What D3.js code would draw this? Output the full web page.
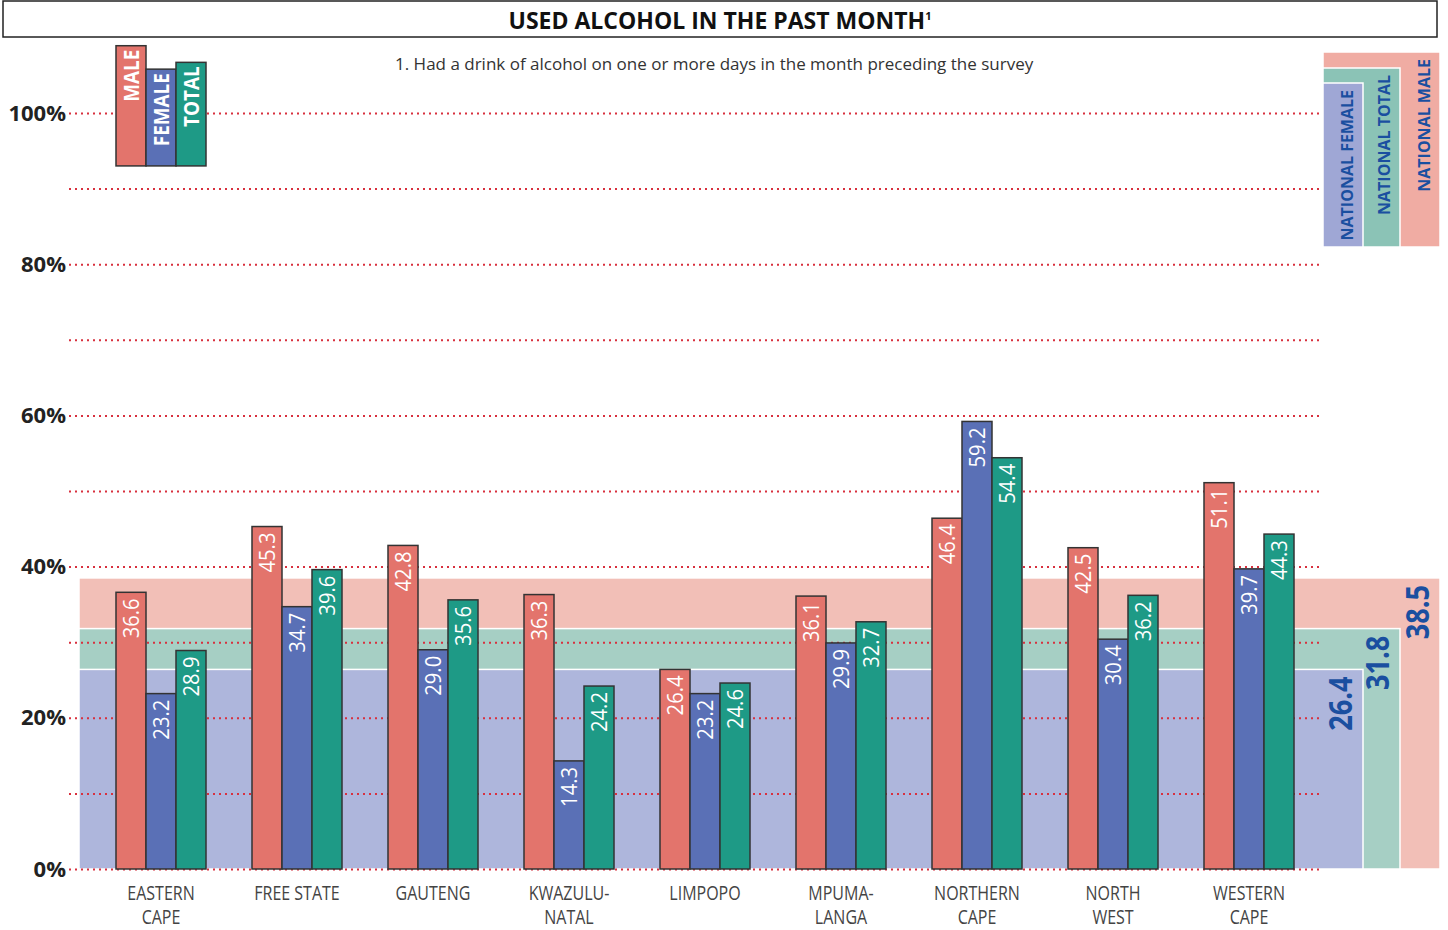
<!DOCTYPE html>
<html>
<head>
<meta charset="utf-8">
<script src="https://cdn.jsdelivr.net/npm/d3@7"></script>
<style>
  body { margin: 0; background: #fff; }
  svg { display: block; font-family: "Open Sans", "DejaVu Sans", sans-serif; }
</style>
</head>
<body>
<svg id="chart" width="1448" height="930"></svg>
<script>
// data
var provinces = ["EASTERN|CAPE", "FREE STATE", "GAUTENG", "KWAZULU-|NATAL", "LIMPOPO",
                 "MPUMA-|LANGA", "NORTHERN|CAPE", "NORTH|WEST", "WESTERN|CAPE"];
var series = ["MALE", "FEMALE", "TOTAL"];
var male   = [36.6, 45.3, 42.8, 36.3, 26.4, 36.1, 46.4, 42.5, 51.1];
var female = [23.2, 34.7, 29.0, 14.3, 23.2, 29.9, 59.2, 30.4, 39.7];
var total  = [28.9, 39.6, 35.6, 24.2, 24.6, 32.7, 54.4, 36.2, 44.3];
var national = [
    {key: "MALE", value: 38.5},
    {key: "TOTAL", value: 31.8},
    {key: "FEMALE", value: 26.4}
];
var legendTops = [108.9, 105.8, 106.7]; // legend bars sit above the 100% line
var legendBase = 93;
var yTicks = [0, 20, 40, 60, 80, 100];

var svg = d3.select("svg"),
    width = +svg.attr("width"),
    height = +svg.attr("height");

var barColor = {MALE: "#e3746c", FEMALE: "#5a70b6", TOTAL: "#1e9a86"};
var bandColor = {MALE: "#f2bfb7", TOTAL: "#a6cfc4", FEMALE: "#aeb6dc"};
var keyColor = {MALE: "#f0aca3", TOTAL: "#8bc3b6", FEMALE: "#9fa7d5"};
var bandRight = {MALE: 1440, TOTAL: 1400, FEMALE: 1363};
var keyTop = {MALE: 52, TOTAL: 68, FEMALE: 83};
var blue = "#1a4fa0";

var y = d3.scaleLinear().domain([0, 100]).range([869, 113]);
var x0 = d3.scaleBand().domain(provinces).range([93, 1317]);
var x1 = d3.scaleBand().domain(series).range([0, 90]);
var groupOff = (x0.step() - 90) / 2;

var rows = provinces.map(function(p, i) {
    return {name: p, values: [male[i], female[i], total[i]]};
});

// title box
svg.append("rect")
    .attr("x", 3).attr("y", 1).attr("width", 1434).attr("height", 36)
    .attr("fill", "none").attr("stroke", "#222").attr("stroke-width", 1.5);
var title = svg.append("text")
    .attr("x", 720).attr("y", 29)
    .attr("text-anchor", "middle")
    .style("font-size", "23px").style("font-weight", "bold").style("fill", "#111")
    .text("USED ALCOHOL IN THE PAST MONTH");
title.append("tspan").attr("dy", -9).style("font-size", "11px").text("1");

svg.append("text")
    .attr("x", 395).attr("y", 70)
    .style("font-size", "17px").style("fill", "#333")
    .text("1. Had a drink of alcohol on one or more days in the month preceding the survey");

// national reference bands
var bands = svg.append("g").attr("class", "bands");
bands.selectAll("rect")
    .data(national)
    .enter().append("rect")
    .attr("x", 79)
    .attr("y", function(d) { return y(d.value); })
    .attr("width", function(d) { return bandRight[d.key] - 79; })
    .attr("height", function(d) { return y(0) - y(d.value); })
    .attr("fill", function(d) { return bandColor[d.key]; })
    .attr("stroke", "#fff").attr("stroke-width", 1.5);

bands.selectAll("text")
    .data(national)
    .enter().append("text")
    .attr("transform", function(d) {
        return "translate(" + (bandRight[d.key] - 22) + "," + (y(d.value) + 7) + ") rotate(-90) scale(0.85,1)";
    })
    .attr("text-anchor", "end")
    .attr("dy", "0.35em")
    .style("font-size", "32px").style("font-weight", "bold").style("fill", blue)
    .text(function(d) { return d.value.toFixed(1); });

// national key, top right
var key = svg.append("g").attr("class", "key");
key.selectAll("rect")
    .data(national)
    .enter().append("rect")
    .attr("x", 1323)
    .attr("y", function(d) { return keyTop[d.key]; })
    .attr("width", function(d) { return bandRight[d.key] - 1323; })
    .attr("height", function(d) { return 247 - keyTop[d.key]; })
    .attr("fill", function(d) { return keyColor[d.key]; })
    .attr("stroke", "#fff").attr("stroke-width", 1.5);

key.selectAll("text")
    .data(national)
    .enter().append("text")
    .attr("transform", function(d) {
        return "translate(" + (bandRight[d.key] - 16) + "," + (keyTop[d.key] + 7) + ") rotate(-90)";
    })
    .attr("text-anchor", "end")
    .attr("dy", "0.35em")
    .style("font-size", "16px").style("font-weight", "bold").style("fill", blue)
    .text(function(d) { return "NATIONAL " + d.key; });

// dotted gridlines
var grid = svg.append("g")
    .attr("transform", "translate(69,0)")
    .call(d3.axisLeft(y).tickValues(d3.range(0, 101, 10)).tickSize(-1251).tickFormat(""));
grid.select(".domain").remove();
grid.selectAll("line")
    .attr("stroke", "#d8303e").attr("stroke-width", 2)
    .attr("stroke-dasharray", "2,4");

var yAxis = svg.append("g")
    .attr("transform", "translate(66,0)")
    .call(d3.axisLeft(y).tickValues(yTicks).tickSize(0).tickPadding(0)
        .tickFormat(function(d) { return d + "%"; }));
yAxis.select(".domain").remove();
yAxis.selectAll("text")
    .style("font-size", "22px").style("font-weight", "bold").style("fill", "#222")
    .style("font-family", "'Open Sans', sans-serif");

// bars
var groups = svg.append("g").attr("class", "bars")
    .selectAll("g")
    .data(rows)
    .enter().append("g")
    .attr("transform", function(d) { return "translate(" + (x0(d.name) + groupOff) + ",0)"; });

var cells = groups.selectAll("g")
    .data(function(d) {
        return d.values.map(function(v, i) { return {key: series[i], value: v}; });
    })
    .enter().append("g");

cells.append("rect")
    .attr("x", function(d) { return x1(d.key); })
    .attr("y", function(d) { return y(d.value); })
    .attr("width", x1.bandwidth())
    .attr("height", function(d) { return y(0) - y(d.value); })
    .attr("fill", function(d) { return barColor[d.key]; })
    .attr("stroke", "#333").attr("stroke-width", 1.5);

cells.append("text")
    .attr("transform", function(d) {
        return "translate(" + (x1(d.key) + x1.bandwidth() / 2) + "," + (y(d.value) + 6) + ") rotate(-90) scale(0.92,1)";
    })
    .attr("text-anchor", "end")
    .attr("dy", "0.36em")
    .style("font-size", "22px").style("fill", "#fff")
    .text(function(d) { return d.value.toFixed(1); });

// x labels
var xl = svg.append("g").selectAll("text")
    .data(provinces)
    .enter().append("text")
    .attr("transform", function(d) {
        return "translate(" + (x0(d) + x0.step() / 2) + ",900) scale(0.8,1)";
    })
    .attr("text-anchor", "middle")
    .style("font-size", "20px").style("fill", "#444");
xl.selectAll("tspan")
    .data(function(d) { return d.split("|"); })
    .enter().append("tspan")
    .attr("x", 0)
    .attr("y", function(d, i) { return i * 24; })
    .text(function(d) { return d; });

// legend bars, top left
var lg = svg.append("g")
    .attr("transform", "translate(" + (x0(provinces[0]) + groupOff) + ",0)");
var lcells = lg.selectAll("g")
    .data(series.map(function(s, i) { return {key: s, top: legendTops[i]}; }))
    .enter().append("g");
lcells.append("rect")
    .attr("x", function(d) { return x1(d.key); })
    .attr("y", function(d) { return y(d.top); })
    .attr("width", x1.bandwidth())
    .attr("height", function(d) { return y(legendBase) - y(d.top); })
    .attr("fill", function(d) { return barColor[d.key]; })
    .attr("stroke", "#333").attr("stroke-width", 1.5);
lcells.append("text")
    .attr("transform", function(d) {
        return "translate(" + (x1(d.key) + x1.bandwidth() / 2) + "," + (y(d.top) + 4) + ") rotate(-90) scale(0.9,1)";
    })
    .attr("text-anchor", "end")
    .attr("dy", "0.36em")
    .style("font-size", "21px").style("font-weight", "bold").style("fill", "#fff")
    .text(function(d) { return d.key; });
</script>
</body>
</html>
